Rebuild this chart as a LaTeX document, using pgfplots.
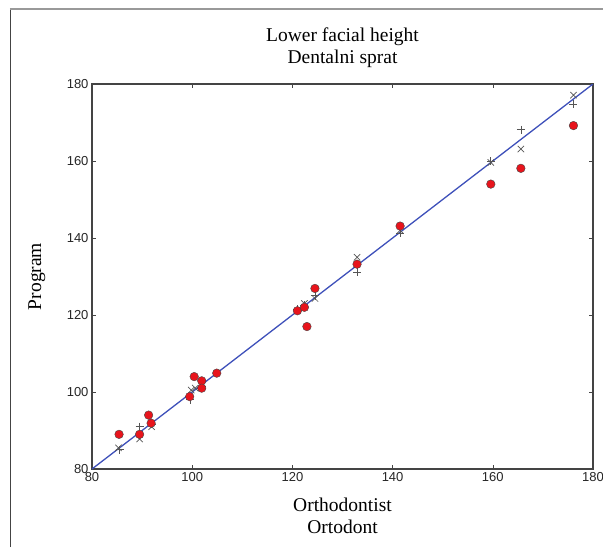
\documentclass[border=0pt]{standalone}
\usepackage{fontspec}
\setmainfont{Liberation Serif}
\newfontfamily\ticksans{Liberation Sans}
\usepackage{pgfplots}
\pgfplotsset{compat=1.18}

\definecolor{lineblue}{RGB}{62,80,186}
\definecolor{dotred}{RGB}{232,20,28}
\definecolor{markgray}{RGB}{85,85,85}
\definecolor{axgray}{RGB}{68,68,68}

\begin{document}
\begin{tikzpicture}
\useasboundingbox (-92pt,-78pt) rectangle (511pt,469pt);
% page frame (left and top only)
\draw[axgray, line width=0.9pt] (-82pt,-78pt) -- (-82pt,460pt);
\draw[gray!80, line width=1.2pt] (-82pt,460pt) -- (511pt,460pt);
\begin{axis}[
    scale only axis,
    width=501pt, height=385pt,
    xmin=80, xmax=180, ymin=80, ymax=180,
    xtick={80,100,...,180}, ytick={80,100,...,180},
    tick align=inside,
    major tick length=4pt,
    axis line style={axgray, line width=1.1pt},
    every tick/.style={axgray, line width=0.6pt},
    ticklabel style={font=\ticksans\fontsize{13}{13}\selectfont, color=black!85},
    /pgf/number format/assume math mode=true,
    title={Lower facial height\\Dentalni sprat},
    title style={font=\fontsize{19.5}{22}\selectfont, align=center,
        at={(axis description cs:0.5,1.078)}, anchor=center},
    xlabel={Orthodontist\\Ortodont},
    xlabel style={font=\fontsize{19.5}{22}\selectfont, align=center,
        at={(axis description cs:0.5,-0.122)}, anchor=center},
    ylabel={Program},
    ylabel style={font=\fontsize{19.5}{22}\selectfont,
        at={(axis description cs:-0.110,0.5)}, anchor=center},
]
% identity line
\addplot[lineblue, line width=1.3pt] coordinates {(80,80) (180,180)};

% program (x marks)
\addplot[only marks, mark=x, mark size=4.5pt, markgray, line width=0.7pt] coordinates {
(85.3,85.5) (89.5,87.8) (91.9,91.0) (99.8,100.5) (100.6,101.0)
(122.4,123.0) (124.5,124.3) (132.9,135.0) (141.5,142.0)
(159.6,159.6) (165.6,163.1) (176.1,177.1)
};

% program (+ marks)
\addplot[only marks, mark=+, mark size=4pt, markgray, line width=0.7pt] coordinates {
(85.5,85.0) (89.5,91.0) (91.9,91.6) (99.6,98.0) (101.9,101.5)
(121.0,121.5) (122.4,122.5) (124.5,125.0) (132.9,131.1) (141.5,141.2)
(159.6,160.0) (165.6,168.1) (176.1,174.8)
};

% program (red circles)
\addplot[only marks, mark=*, mark size=4.3pt,
    mark options={fill=dotred, draw=axgray, line width=0.4pt}] coordinates {
(85.4,89.0) (89.5,89.0) (91.3,94.0) (91.8,91.9) (99.5,98.8)
(100.4,104.0) (101.9,102.9) (101.9,101.0) (104.9,104.9)
(121.0,121.1) (122.4,122.0) (122.9,117.0) (124.5,126.9)
(132.9,133.2) (141.5,143.1) (159.6,154.0) (165.6,158.1) (176.1,169.2)
};
\end{axis}
\end{tikzpicture}
\end{document}
